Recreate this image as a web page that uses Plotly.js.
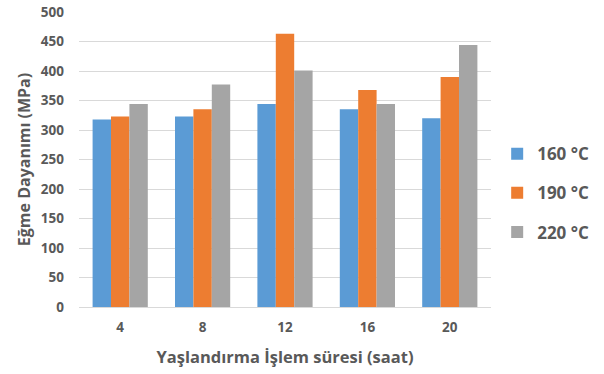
<!DOCTYPE html>
<html>
<head>
<meta charset="utf-8">
<script src="https://cdn.plot.ly/plotly-3.0.1.min.js"></script>
<style>html,body{margin:0;padding:0;background:#fff;}</style>
</head>
<body>
<div id="chart" style="width:604px;height:374px;"></div>
<script>
const categories = ["4", "8", "12", "16", "20"];
const series160 = [318, 323, 344, 335, 320];
const series190 = [323, 335, 463, 368, 390];
const series220 = [344, 377, 401, 344, 444];
const seriesNames = ["160 °C", "190 °C", "220 °C"];
const yTicks = [0, 50, 100, 150, 200, 250, 300, 350, 400, 450, 500];

const colors = ["#5B9BD5", "#ED7D31", "#A5A5A5"];
const allSeries = [series160, series190, series220];
const font = "Open Sans, Noto Sans, sans-serif";

const data = allSeries.map((vals, i) => ({
  type: "bar",
  x: categories,
  y: vals,
  name: seriesNames[i],
  legendgroup: "g" + i,
  marker: {color: colors[i]},
  hoverinfo: "x+y+name"
}));

const layout = {
  width: 604, height: 374,
  margin: {l: 79, r: 113, t: 12, b: 67, autoexpand: false},
  paper_bgcolor: "#fff", plot_bgcolor: "#fff",
  barmode: "group",
  bargap: 0.33,
  bargroupgap: 0,
  font: {family: font, color: "#595959"},
  xaxis: {
    type: "category",
    automargin: false,
    tickfont: {family: font, size: 13.5, color: "#595959", weight: "bold"},
    showline: true, linecolor: "#D9D9D9", linewidth: 1,
    ticks: "", showgrid: false,
    ticklabelstandoff: 8,
    title: {text: "Yaşlandırma İşlem süresi (saat)", font: {family: font, size: 16.5, color: "#595959", weight: "bold"}, standoff: 16}
  },
  yaxis: {
    range: [0, 500],
    automargin: false,
    tickvals: yTicks,
    ticktext: yTicks.map(String),
    tickfont: {family: font, size: 13.5, color: "#595959", weight: "bold"},
    showgrid: true, gridcolor: "#D9D9D9", gridwidth: 1,
    zeroline: false, showline: false, ticks: "",
    ticklabelstandoff: 14,
    title: {text: "Eğme Dayanımı (MPa)", font: {family: font, size: 16, color: "#595959", weight: "bold"}, standoff: 6}
  },
  legend: {
    x: 1.015, xanchor: "left",
    y: 0.386, yanchor: "middle",
    font: {family: font, size: 17, color: "#595959", weight: "bold"},
    tracegroupgap: 14,
    itemwidth: 30
  },
  showlegend: true
};

Plotly.newPlot("chart", data, layout, {displayModeBar: false, staticPlot: true});
</script>
</body>
</html>
